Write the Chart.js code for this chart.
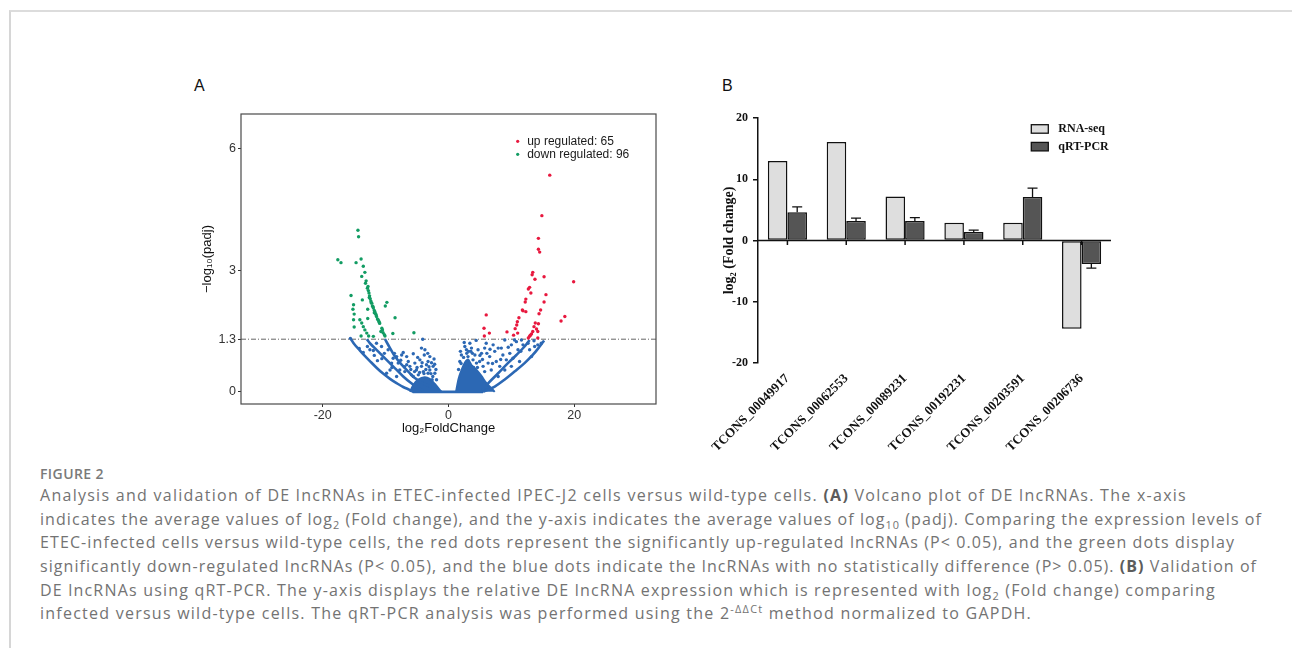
<!DOCTYPE html>
<html>
<head>
<meta charset="utf-8">
<script src="https://cdn.jsdelivr.net/npm/chart.js@4.4.1/dist/chart.umd.min.js"></script>
<style>
body { margin:0; width:1292px; height:648px; overflow:hidden; background:#fff; position:relative; font-family:"Open Sans", sans-serif; }
#frame { position:absolute; left:9px; top:10px; width:1300px; height:700px; border-top:2px solid #dcdcdc; border-left:2px solid #d6d6d6; }
.panel-letter { position:absolute; top:78px; font-family:"Liberation Sans", Arial, sans-serif; font-size:16px; line-height:16px; color:#111; }
#volcano-box { position:absolute; left:180px; top:100px; width:490px; height:340px; }
#bars-box { position:absolute; left:690px; top:105px; width:440px; height:345px; }
#fig-title { position:absolute; left:40px; top:464px; font-size:14px; line-height:20px; font-weight:600; color:#7a7a7a; white-space:nowrap; }
#caption { position:absolute; left:40px; top:484px; font-size:16px; line-height:23.65px; color:#737373; }
.cap-line { height:23.65px; white-space:nowrap; }
.cap-line b { color:#5c5c5c; font-weight:700; }
.cap-line sub, .cap-line sup { font-size:0.68em; line-height:0; }
</style>
</head>
<body>
<div id="frame"></div>
<div class="panel-letter" style="left:194px;">A</div>
<div class="panel-letter" style="left:722px;">B</div>

<div id="volcano-box"><canvas id="volcano"></canvas></div>
<div id="bars-box"><canvas id="bars"></canvas></div>

<div id="fig-title"><span>FIGURE 2</span></div>
<div id="caption">
<div class="cap-line"><span>Analysis and validation of DE lncRNAs in ETEC-infected IPEC-J2 cells versus wild-type cells. <b>(A)</b> Volcano plot of DE lncRNAs. The x-axis</span></div>
<div class="cap-line"><span>indicates the average values of log<sub>2</sub> (Fold change), and the y-axis indicates the average values of log<sub>10</sub> (padj). Comparing the expression levels of</span></div>
<div class="cap-line"><span>ETEC-infected cells versus wild-type cells, the red dots represent the significantly up-regulated lncRNAs (P&lt; 0.05), and the green dots display</span></div>
<div class="cap-line"><span>significantly down-regulated lncRNAs (P&lt; 0.05), and the blue dots indicate the lncRNAs with no statistically difference (P&gt; 0.05). <b>(B)</b> Validation of</span></div>
<div class="cap-line"><span>DE lncRNAs using qRT-PCR. The y-axis displays the relative DE lncRNA expression which is represented with log<sub>2</sub> (Fold change) comparing</span></div>
<div class="cap-line"><span>infected versus wild-type cells. The qRT-PCR analysis was performed using the 2<sup>-ΔΔCt</sup> method normalized to GAPDH.</span></div>
</div>

<script>
/********** data: panel A (volcano) **********/
const volcanoXTicks = [-20, 0, 20];
const volcanoYTicks = [0, 1.3, 3, 6];
const padjCutoff = 1.3;
const upCount = 65;
const downCount = 96;

// [log2FoldChange, -log10(padj)]
const upRegulated = [
    [16.1,5.35],[14.85,4.35],[14.3,3.79],[14.3,3.52],[14.5,3.45],[13.4,2.95],[13.3,2.89],[13.75,2.78],
    [15.2,2.84],[19.9,2.72],[12.9,2.58],[12.7,2.54],[13.1,2.44],[15.5,2.40],[12.3,2.29],[12.2,2.22],
    [15.2,2.22],[11.75,2.02],[11.85,2.0],[12.3,1.98],[14.65,2.02],[14.4,1.93],[11.2,1.83],[10.95,1.73],
    [10.85,1.65],[10.6,1.56],[13.8,1.70],[14.3,1.68],[13.6,1.61],[14.2,1.49],[13.4,1.49],[13.2,1.43],
    [12.9,1.37],[12.7,1.33],[14.2,1.33],[6.0,1.90],[17.9,1.75],[18.5,1.86],[5.65,1.57],[6.5,1.45],
    [5.7,1.38],[9.3,1.48],[10.35,1.40],[13.0,1.40],[14.0,1.55],[11.0,1.45]
];

const downRegulated = [
    [-14.4,3.99],[-14.3,3.83],[-17.6,3.26],[-17.1,3.19],[-14.7,3.19],[-13.9,3.28],[-13.55,3.10],[-13.3,2.95],
    [-13.8,2.85],[-13.1,2.74],[-13.2,2.68],[-12.9,2.56],[-12.8,2.60],[-12.75,2.50],[-12.65,2.44],[-12.55,2.37],
    [-12.6,2.33],[-12.45,2.30],[-12.35,2.24],[-12.3,2.20],[-12.2,2.19],[-12.1,2.12],[-12.0,2.10],[-11.95,2.07],
    [-11.8,2.01],[-11.7,1.97],[-11.6,1.93],[-11.5,1.90],[-11.45,1.86],[-11.3,1.80],[-11.2,1.78],[-11.1,1.75],
    [-11.0,1.72],[-10.95,1.69],[-10.6,1.57],[-10.4,1.46],[-10.1,1.38],[-14.1,1.78],[-13.8,1.70],[-13.55,1.61],
    [-13.3,1.53],[-13.0,1.45],[-12.7,1.38],[-15.5,2.38],[-15.1,2.15],[-15.2,2.04],[-15.0,1.92],[-15.1,1.78],
    [-15.0,1.60],[-13.7,2.27],[-12.85,2.04],[-12.85,1.81],[-11.8,1.95],[-9.8,2.21],[-10.05,2.12],[-8.5,1.83],
    [-10.5,1.53],[-10.75,1.49],[-8.85,1.44],[-5.5,1.46],[-13.9,1.38],[-10.2,1.41],[-11.95,1.37]
];

const notSignificant = [
    [-15.6,1.32],[-4.1,1.30],[-14.2,1.07],[-13.55,0.97],[-12.5,1.04],[-11.95,1.02],[-11.3,0.77],[-10.2,0.95],
    [-9.05,0.71],[-8.6,0.95],[-8.25,0.87],[-8.0,0.71],[-7.45,0.91],[-7.2,0.97],[-6.65,0.87],[-6.4,0.75],
    [-6.15,0.63],[-5.6,0.94],[-5.35,0.71],[-5.1,0.54],[-4.55,0.79],[-4.3,0.63],[-3.85,0.91],[-3.75,1.04],
    [-3.5,0.67],[-3.25,0.75],[-2.97,0.54],[-2.7,0.72],[-2.45,0.63],[-2.17,0.46],[-1.9,0.30],[-3.25,0.46],
    [-4.0,0.50],[-4.8,0.42],[-5.9,0.42],[-6.95,0.50],[-7.75,0.54],[-8.25,0.38],[-9.3,0.54],[-9.85,0.46],
    [-10.65,1.12],[-11.45,1.20],[-9.6,1.04],[-8.8,0.83],[-6.65,0.67],[-5.6,0.38],[-2.6,0.30],[-2.97,0.87],
    [-4.3,1.08],[-2.3,0.81],[-5.0,0.60],[-4.6,0.48],[-4.2,0.72],[-3.6,0.55],[-3.1,0.62],[-2.8,0.45],
    [-2.5,0.38],[-2.0,0.55],[-3.9,0.45],[-5.4,0.50],[-4.9,0.85],[-3.3,0.95],[-2.2,0.68],[-6.0,0.55],
    [-7.0,0.62],[-7.6,0.78],[-9.0,0.60],[-10.6,0.82],[-11.8,0.90],[-12.9,1.12],
    [3.4,1.20],[3.65,1.08],[3.1,0.87],[3.55,1.0],[4.2,0.91],[4.7,1.04],[5.25,0.95],[5.75,1.08],
    [6.0,1.20],[6.55,0.87],[7.1,1.16],[7.35,1.0],[7.9,1.08],[8.4,1.08],[8.65,0.91],[8.95,1.28],
    [9.2,0.79],[9.75,0.95],[10.0,1.16],[10.25,0.83],[10.5,1.28],[10.8,1.24],[11.05,1.04],[11.6,1.28],
    [11.85,1.16],[12.65,1.2],[12.9,1.04],[13.7,1.12],[14.2,1.16],[14.75,1.2],[7.6,0.75],[8.15,0.63],
    [6.3,0.71],[5.5,0.63],[4.95,0.75],[4.45,0.71],[6.8,0.54],[5.75,0.5],[10.0,0.63],[11.3,0.75],
    [8.95,0.54],[7.9,0.38],[13.2,0.87],[2.6,1.12],[2.85,1.04],[2.05,0.91],[1.8,0.75],[3.9,0.79],[3.4,0.67],
    [1.6,0.55],[2.0,0.70],[2.4,0.85],[2.9,0.95],[3.2,1.0],[3.8,0.95],[4.0,0.60],[4.6,0.60],
    [5.0,0.90],[5.4,0.80],[6.1,0.95],[6.6,1.05],[7.0,0.70],[8.3,0.80],[9.5,1.10],[11.5,1.0],
    [13.6,1.26],[1.9,1.0],[2.5,1.22],[4.4,1.27]
];

// dense streaks of non significant genes
const leftOuterStreak = [[-15.5,1.30],[-15.0,1.18],[-14.2,1.04],[-13.5,0.92],[-12.5,0.76],[-11.4,0.59],[-10.4,0.45],[-9.3,0.32],[-8.2,0.21],[-7.2,0.12],[-6.2,0.05],[-5.6,0.0]];
const leftMiddleStreak = [[-13.0,1.30],[-12.5,1.20],[-11.2,1.0],[-9.85,0.79],[-8.5,0.58],[-7.2,0.38],[-5.9,0.21],[-4.8,0.09],[-4.0,0.03]];
const leftInnerStreak = [[-10.1,1.30],[-9.3,1.08],[-8.5,0.87],[-7.45,0.67],[-6.4,0.50],[-5.35,0.34],[-4.0,0.21],[-2.7,0.12]];
const rightInnerStreak = [[5.4,0.04],[6.3,0.21],[7.9,0.46],[9.45,0.71],[10.8,0.91],[12.1,1.12],[12.9,1.28]];
const rightOuterStreak = [[5.5,0.0],[7.35,0.13],[8.9,0.30],[10.5,0.50],[12.1,0.71],[13.4,0.91],[14.5,1.12],[15.2,1.27]];
const zeroStreak = [[-5.7,0],[5.5,0]];

// solid clumps near the origin (upper edge)
const leftClump = [[-6.1,0],[-5.6,0.17],[-4.8,0.30],[-3.8,0.36],[-3.0,0.32],[-2.2,0.20],[-1.4,0.05],[-1.1,0]];
const rightClump = [[1.2,0],[1.6,0.32],[2.1,0.55],[2.6,0.72],[3.1,0.80],[3.65,0.66],[4.45,0.54],[5.2,0.40],[6.0,0.22],[6.8,0.09],[7.35,0]];

/********** data: panel B (bars) **********/
const lncIds = ["TCONS_00049917", "TCONS_00062553", "TCONS_00089231", "TCONS_00192231", "TCONS_00203591", "TCONS_00206736"];
const rnaSeq = [13.0, 16.1, 7.2, 2.9, 2.9, -14.4];
const qrtPcr = [4.6, 3.2, 3.2, 1.4, 7.1, -3.85];
const qrtPcrErr = [0.9, 0.45, 0.55, 0.3, 1.45, 0.65];

/********** colours **********/
const RED = "#e8183e";
const GREEN = "#129c63";
const BLUE = "#2c68b4";
const SANS = "'Liberation Sans', Arial, sans-serif";
const SERIF = "'Liberation Serif', 'Times New Roman', serif";

/**********/
function toXY(list)
{
    return list.map(p => ({ x: p[0], y: p[1] }));
}

/**********/
const framePlugin = {
    id: "frame",
    afterDraw(chart, args, opts)
    {
        let a = chart.chartArea;
        let ctx = chart.ctx;
        ctx.save();
        ctx.strokeStyle = opts.color;
        ctx.lineWidth = opts.width;
        ctx.strokeRect(a.left, a.top, a.right - a.left, a.bottom - a.top);
        ctx.restore();
    }
};

/**********/
const dotLegendPlugin = {
    id: "dotLegend",
    afterDraw(chart, args, opts)
    {
        let a = chart.chartArea;
        let ctx = chart.ctx;
        ctx.save();
        ctx.font = opts.font;
        ctx.textBaseline = "middle";
        for(let i=0; i<opts.items.length; i++)
        {
            let item = opts.items[i];
            let x = a.right - opts.offsetRight;
            let y = a.top + opts.offsetTop + i*opts.rowHeight;
            ctx.fillStyle = item.color;
            ctx.beginPath();
            ctx.arc(x, y, 1.6, 0, Math.PI*2);
            ctx.fill();
            ctx.fillStyle = "#1a1a1a";
            ctx.fillText(item.text, x + 9.5, y + 0.5);
        }
        ctx.restore();
    }
};

/**********/
const boxLegendPlugin = {
    id: "boxLegend",
    afterDraw(chart, args, opts)
    {
        let a = chart.chartArea;
        let ctx = chart.ctx;
        ctx.save();
        ctx.font = opts.font;
        ctx.textBaseline = "middle";
        let sets = chart.data.datasets;
        for(let i=0; i<sets.length; i++)
        {
            let x = a.right - opts.offsetRight;
            let y = a.top + opts.offsetTop + i*opts.rowHeight;
            ctx.fillStyle = sets[i].backgroundColor;
            ctx.fillRect(x, y, 17, 8.5);
            ctx.strokeStyle = "#111";
            ctx.lineWidth = 1.3;
            ctx.strokeRect(x, y, 17, 8.5);
            ctx.fillStyle = "#111";
            ctx.fillText(sets[i].label, x + 27, y + 4.5);
        }
        ctx.restore();
    }
};

/**********/
const zeroAxisPlugin = {
    id: "zeroAxis",
    afterDatasetsDraw(chart)
    {
        let a = chart.chartArea;
        let ctx = chart.ctx;
        let y0 = chart.scales.y.getPixelForValue(0);
        ctx.save();
        ctx.strokeStyle = "#111";
        ctx.lineWidth = 1.5;
        ctx.beginPath();
        ctx.moveTo(a.left, y0);
        ctx.lineTo(a.right, y0);
        //small ticks under the zero line
        let xScale = chart.scales.x;
        for(let i=0; i<xScale.ticks.length; i++)
        {
            let x = xScale.getPixelForTick(i);
            ctx.moveTo(x, y0);
            ctx.lineTo(x, y0 + 4.5);
        }
        ctx.stroke();
        ctx.restore();
    }
};

/**********/
const errorBarPlugin = {
    id: "errorBars",
    afterDatasetsDraw(chart, args, opts)
    {
        let meta = chart.getDatasetMeta(opts.datasetIndex);
        let values = chart.data.datasets[opts.datasetIndex].data;
        let yScale = chart.scales.y;
        let ctx = chart.ctx;
        ctx.save();
        ctx.strokeStyle = "#111";
        ctx.lineWidth = 1.3;
        ctx.beginPath();
        for(let i=0; i<meta.data.length; i++)
        {
            let v = values[i];
            let tip = v >= 0 ? v + opts.errors[i] : v - opts.errors[i];
            let x = meta.data[i].x;
            let y0 = yScale.getPixelForValue(v);
            let y1 = yScale.getPixelForValue(tip);
            ctx.moveTo(x, y0);
            ctx.lineTo(x, y1);
            ctx.moveTo(x - 5, y1);
            ctx.lineTo(x + 5, y1);
        }
        ctx.stroke();
        ctx.restore();
    }
};

/**********/
function buildVolcano()
{
    let datasets = [];

    //significant genes on top
    datasets.push({ type: "scatter", data: toXY(upRegulated), backgroundColor: RED, pointRadius: 1.7, borderWidth: 0 });
    datasets.push({ type: "scatter", data: toXY(downRegulated), backgroundColor: GREEN, pointRadius: 1.7, borderWidth: 0 });
    datasets.push({ type: "scatter", data: toXY(notSignificant), backgroundColor: BLUE, pointRadius: 1.7, borderWidth: 0 });

    let streaks = [leftOuterStreak, leftMiddleStreak, leftInnerStreak, rightInnerStreak, rightOuterStreak, zeroStreak];
    for(let i=0; i<streaks.length; i++)
    {
        datasets.push({ type: "line", data: toXY(streaks[i]), borderColor: BLUE, borderWidth: 2.6, pointRadius: 0, tension: 0.35, fill: false });
    }

    let clumps = [leftClump, rightClump];
    for(let i=0; i<clumps.length; i++)
    {
        datasets.push({ type: "line", data: toXY(clumps[i]), borderColor: BLUE, backgroundColor: BLUE, borderWidth: 2, pointRadius: 0, tension: 0.3, fill: "origin" });
    }

    //padj cutoff
    datasets.push({ type: "line", data: [{ x: -33, y: padjCutoff }, { x: 33, y: padjCutoff }], borderColor: "#666", borderWidth: 1, borderDash: [5, 2, 1, 2], pointRadius: 0, fill: false });

    new Chart(document.getElementById("volcano"),
    {
        type: "scatter",
        data: { datasets: datasets },
        options:
        {
            responsive: true,
            maintainAspectRatio: false,
            animation: false,
            layout: { padding: { top: 14, right: 14, left: 0, bottom: 0 } },
            plugins:
            {
                legend: { display: false },
                tooltip: { enabled: false },
                frame: { color: "#4a4a4a", width: 1.2 },
                dotLegend:
                {
                    font: "12px " + SANS,
                    offsetRight: 138.3,
                    offsetTop: 27.3,
                    rowHeight: 13,
                    items: [ { text: "up regulated: " + upCount, color: RED }, { text: "down regulated: " + downCount, color: GREEN } ]
                }
            },
            scales:
            {
                x:
                {
                    type: "linear", min: -33, max: 33,
                    afterBuildTicks: s => { s.ticks = volcanoXTicks.map(v => ({ value: v })); },
                    afterFit: s => { s.height = 36; },
                    grid: { drawOnChartArea: false, tickLength: 3, color: "#333" },
                    border: { display: false },
                    ticks: { font: { family: SANS, size: 12.5 }, color: "#333", padding: 1 },
                    title: { display: true, text: "log₂FoldChange", font: { family: SANS, size: 13 }, color: "#111", padding: { top: 0, bottom: 4 } }
                },
                y:
                {
                    type: "linear", min: -0.3, max: 6.86,
                    afterBuildTicks: s => { s.ticks = volcanoYTicks.map(v => ({ value: v })); },
                    afterFit: s => { s.width = 61; },
                    grid: { drawOnChartArea: false, tickLength: 3, color: "#333" },
                    border: { display: false },
                    ticks: { font: { family: SANS, size: 12.5 }, color: "#333", padding: 2 },
                    title: { display: true, text: "−log₁₀(padj)", font: { family: SANS, size: 13 }, color: "#111", padding: { top: 20, bottom: 0 } }
                }
            }
        },
        plugins: [framePlugin, dotLegendPlugin]
    });
}

/**********/
function buildBars()
{
    new Chart(document.getElementById("bars"),
    {
        type: "bar",
        data:
        {
            labels: lncIds,
            datasets:
            [
                { label: "RNA-seq", data: rnaSeq, backgroundColor: "#dedede", borderColor: "#111", borderWidth: 1.5, borderSkipped: false },
                { label: "qRT-PCR", data: qrtPcr, backgroundColor: "#555555", borderColor: "#111", borderWidth: 1.5, borderSkipped: false }
            ]
        },
        options:
        {
            responsive: true,
            maintainAspectRatio: false,
            animation: false,
            categoryPercentage: 0.665,
            barPercentage: 1.0,
            layout: { padding: { top: 13, right: 19, left: 0, bottom: 0 } },
            plugins:
            {
                legend: { display: false },
                tooltip: { enabled: false },
                boxLegend: { font: "bold 12px " + SERIF, offsetRight: 79.7, offsetTop: 6.7, rowHeight: 17.7 },
                errorBars: { datasetIndex: 1, errors: qrtPcrErr }
            },
            scales:
            {
                x:
                {
                    afterFit: s => { s.height = 87; },
                    grid: { display: false },
                    border: { display: false },
                    ticks: { minRotation: 45, maxRotation: 45, autoSkip: false, font: { family: SERIF, size: 13, weight: "bold" }, color: "#111", padding: 0 }
                },
                y:
                {
                    min: -20, max: 20,
                    afterFit: s => { s.width = 68; },
                    grid: { drawOnChartArea: false, tickLength: 5, color: "#111", lineWidth: 1.5 },
                    border: { color: "#111", width: 1.5 },
                    ticks: { stepSize: 10, font: { family: SERIF, size: 12, weight: "bold" }, color: "#111", padding: 5 },
                    title: { display: true, text: "log₂ (Fold change)", font: { family: SERIF, size: 14, weight: "bold" }, color: "#111", padding: { top: 31, bottom: 0 } }
                }
            }
        },
        plugins: [zeroAxisPlugin, errorBarPlugin, boxLegendPlugin]
    });
}

/**********/
function fitCaption()
{
    //right edges of each caption line in the figure
    let ends = [1187, 1262, 1235, 1257, 1216, 1032];
    let lines = document.querySelectorAll(".cap-line span");
    for(let i=0; i<lines.length; i++)
    {
        let r = lines[i].getBoundingClientRect();
        let n = lines[i].textContent.length;
        lines[i].style.letterSpacing = ((ends[i] - r.right) / n) + "px";
    }
    let title = document.querySelector("#fig-title span");
    let t = title.getBoundingClientRect();
    title.style.letterSpacing = ((104 - t.right) / title.textContent.length) + "px";
}

fitCaption();
buildVolcano();
buildBars();
</script>
</body>
</html>
